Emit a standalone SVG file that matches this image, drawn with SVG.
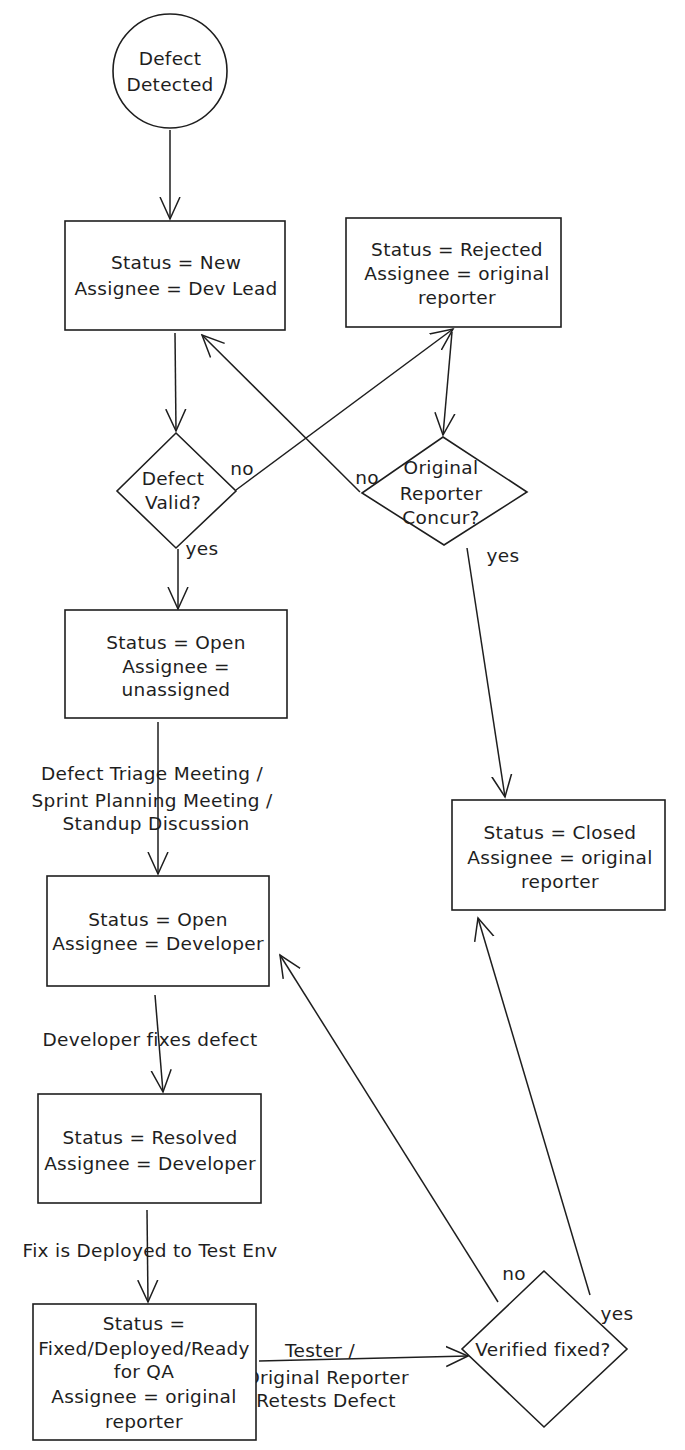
<svg xmlns="http://www.w3.org/2000/svg" width="685" height="1450" viewBox="0 0 685 1450">
<defs>
<style>
.shape{fill:#ffffff;stroke:#1e1e1e;stroke-width:1.6}
.edge{fill:none;stroke:#1e1e1e;stroke-width:1.5;marker-end:url(#arrow)}
text{font-family:"DejaVu Sans","Liberation Sans",sans-serif;font-size:18.5px;fill:#1e1e1e;text-anchor:middle;dominant-baseline:central;letter-spacing:0.3px}
</style>
<marker id="arrow" viewBox="0 0 24 24" refX="22" refY="12" markerWidth="24" markerHeight="24" markerUnits="userSpaceOnUse" orient="auto">
<path d="M0,2 L22,12 L0,22" fill="none" stroke="#1e1e1e" stroke-width="1.5"/>
</marker>
</defs>
<rect width="685" height="1450" fill="#ffffff"/>
<g id="connectors">
<path class="edge" d="M170,130 L170,219"/>
<path class="edge" d="M175,333 L176,431"/>
<path class="edge" d="M236,490 L453,329"/>
<path class="edge" d="M452,332 L443,435"/>
<path class="edge" d="M360,492 L202,335"/>
<path class="edge" d="M467,548 L505,797"/>
<path class="edge" d="M178,549 L178,609"/>
<path class="edge" d="M158,722 L158,874"/>
<path class="edge" d="M155,995 L163,1092"/>
<path class="edge" d="M147,1210 L148,1302"/>
<path class="edge" d="M259,1361 L468,1356"/>
<path class="edge" d="M498,1302 L280,955"/>
<path class="edge" d="M590,1295 L478,918"/>
</g>
<g id="labels">
<text x="242" y="468">no</text>
<text x="367" y="477">no</text>
<text x="202" y="548">yes</text>
<text x="503" y="555">yes</text>
<text x="152" y="773">Defect Triage Meeting /</text>
<text x="152" y="800">Sprint Planning Meeting /</text>
<text x="156" y="823">Standup Discussion</text>
<text x="150" y="1039">Developer fixes defect</text>
<text x="150" y="1250">Fix is Deployed to Test Env</text>
<text x="320" y="1350">Tester /</text>
<text x="327" y="1377">Original Reporter</text>
<text x="326" y="1400">Retests Defect</text>
<text x="514" y="1273">no</text>
<text x="617" y="1313">yes</text>
</g>
<g id="defect-detected">
<circle class="shape" cx="170" cy="71" r="57"/>
<text x="170" y="58">Defect</text>
<text x="170" y="84">Detected</text>
</g>
<g id="status-new">
<rect class="shape" x="65" y="221" width="220" height="109"/>
<text x="176" y="262">Status = New</text>
<text x="176" y="288">Assignee = Dev Lead</text>
</g>
<g id="status-rejected">
<rect class="shape" x="346" y="218" width="215" height="109"/>
<text x="457" y="249">Status = Rejected</text>
<text x="457" y="273">Assignee = original</text>
<text x="457" y="297">reporter</text>
</g>
<g id="defect-valid">
<polygon class="shape" points="176,433 236,491 176,548 117,491"/>
<text x="173" y="478">Defect</text>
<text x="173" y="502">Valid?</text>
</g>
<g id="reporter-concur">
<polygon class="shape" points="443,437 527,492 444,545 362,493"/>
<text x="441" y="467">Original</text>
<text x="441" y="493">Reporter</text>
<text x="441" y="517">Concur?</text>
</g>
<g id="status-open-unassigned">
<rect class="shape" x="65" y="610" width="222" height="108"/>
<text x="176" y="642">Status = Open</text>
<text x="176" y="666">Assignee =</text>
<text x="176" y="689">unassigned</text>
</g>
<g id="status-closed">
<rect class="shape" x="452" y="800" width="213" height="110"/>
<text x="560" y="832">Status = Closed</text>
<text x="560" y="857">Assignee = original</text>
<text x="560" y="881">reporter</text>
</g>
<g id="status-open-developer">
<rect class="shape" x="47" y="876" width="222" height="110"/>
<text x="158" y="919">Status = Open</text>
<text x="158" y="943">Assignee = Developer</text>
</g>
<g id="status-resolved">
<rect class="shape" x="38" y="1094" width="223" height="109"/>
<text x="150" y="1137">Status = Resolved</text>
<text x="150" y="1163">Assignee = Developer</text>
</g>
<g id="status-fixed">
<rect class="shape" x="33" y="1304" width="223" height="136"/>
<text x="144" y="1323">Status =</text>
<text x="144" y="1348">Fixed/Deployed/Ready</text>
<text x="144" y="1371">for QA</text>
<text x="144" y="1396">Assignee = original</text>
<text x="144" y="1421">reporter</text>
</g>
<g id="verified-fixed">
<polygon class="shape" points="544,1271 627,1349 544,1427 462,1349"/>
<text x="543" y="1349">Verified fixed?</text>
</g>
</svg>
